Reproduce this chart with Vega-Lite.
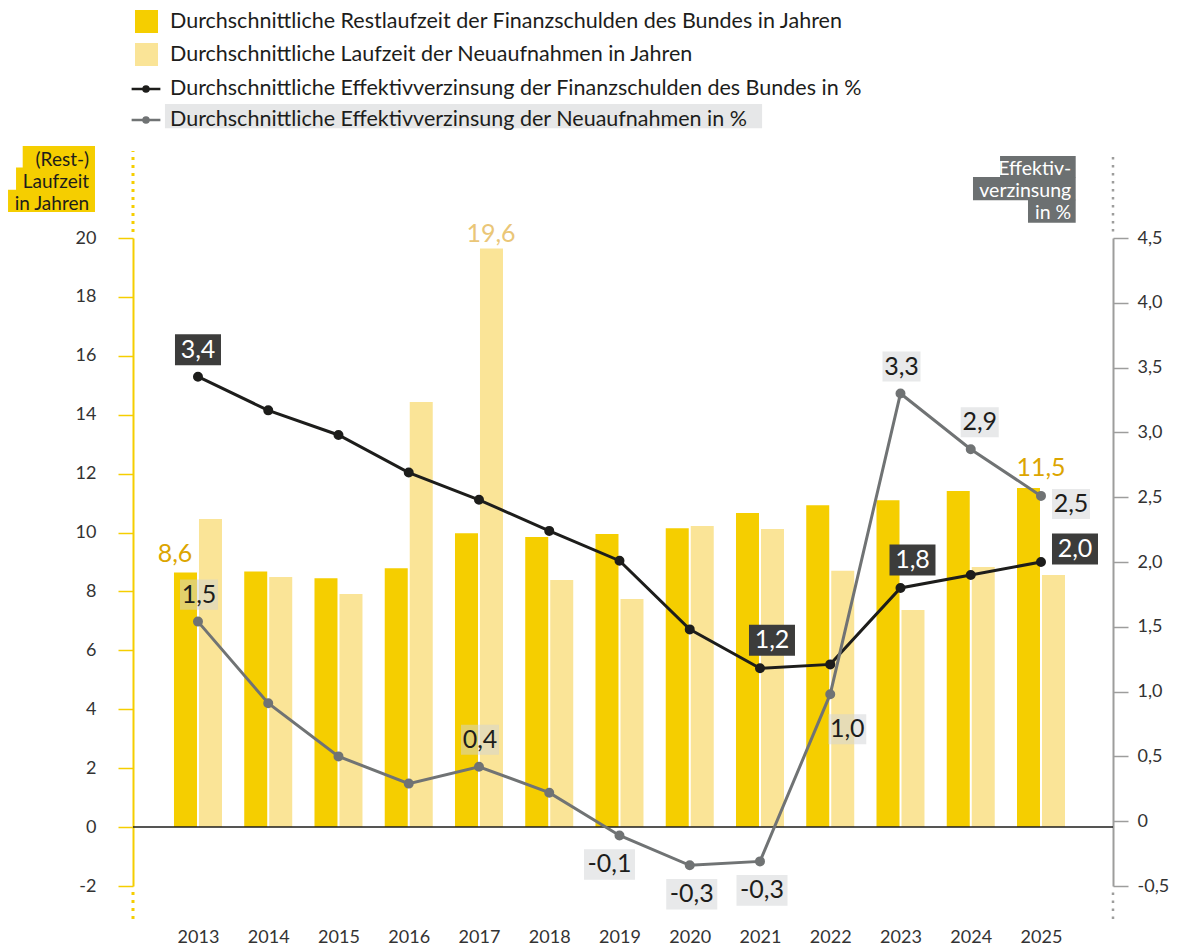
{
  "$schema": "https://vega.github.io/schema/vega-lite/v6.json",
  "width": 980,
  "height": 648,
  "autosize": "none",
  "padding": {"left": 133, "top": 238, "right": 68, "bottom": 61},
  "background": "#ffffff",
  "config": {
    "font": "Lato",
    "view": {"stroke": null},
    "locale": {"number": {"decimal": ",", "thousands": ".", "grouping": [3], "currency": ["", " €"], "minus": "-"}},
    "axis": {"grid": false, "labelFont": "Lato", "labelColor": "#333333", "titleFont": "Lato"}
  },
  "datasets": {
    "d": [
      {"year": 2013, "restlaufzeit": 8.64, "laufzeit_neu": 10.46, "zins_bestand": 3.43, "zins_neu": 1.54},
      {"year": 2014, "restlaufzeit": 8.68, "laufzeit_neu": 8.49, "zins_bestand": 3.17, "zins_neu": 0.91},
      {"year": 2015, "restlaufzeit": 8.45, "laufzeit_neu": 7.91, "zins_bestand": 2.98, "zins_neu": 0.5},
      {"year": 2016, "restlaufzeit": 8.79, "laufzeit_neu": 14.43, "zins_bestand": 2.69, "zins_neu": 0.29},
      {"year": 2017, "restlaufzeit": 9.98, "laufzeit_neu": 19.64, "zins_bestand": 2.48, "zins_neu": 0.42},
      {"year": 2018, "restlaufzeit": 9.85, "laufzeit_neu": 8.39, "zins_bestand": 2.24, "zins_neu": 0.22},
      {"year": 2019, "restlaufzeit": 9.95, "laufzeit_neu": 7.74, "zins_bestand": 2.01, "zins_neu": -0.11},
      {"year": 2020, "restlaufzeit": 10.15, "laufzeit_neu": 10.22, "zins_bestand": 1.48, "zins_neu": -0.34},
      {"year": 2021, "restlaufzeit": 10.66, "laufzeit_neu": 10.12, "zins_bestand": 1.18, "zins_neu": -0.31},
      {"year": 2022, "restlaufzeit": 10.93, "laufzeit_neu": 8.7, "zins_bestand": 1.21, "zins_neu": 0.98},
      {"year": 2023, "restlaufzeit": 11.1, "laufzeit_neu": 7.37, "zins_bestand": 1.8, "zins_neu": 3.3},
      {"year": 2024, "restlaufzeit": 11.41, "laufzeit_neu": 8.83, "zins_bestand": 1.9, "zins_neu": 2.87},
      {"year": 2025, "restlaufzeit": 11.51, "laufzeit_neu": 8.56, "zins_bestand": 2.0, "zins_neu": 2.51}
    ]
  },
  "data": {"name": "d"},
  "layer": [
    {
      "layer": [
        {
          "data": {"values": [{}]},
          "mark": {"type": "rect", "color": "#E6E7E8"},
          "encoding": {
            "x": {"datum": 2012.53, "type": "quantitative"},
            "x2": {"datum": 2021.03},
            "y": {"datum": 24.55, "type": "quantitative"},
            "y2": {"datum": 23.73}
          }
        },
        {
          "mark": {"type": "bar", "size": 23, "xOffset": -12.5, "orient": "vertical"},
          "encoding": {
            "x": {
              "field": "year", "type": "quantitative", "title": null,
              "scale": {"domain": [2012.075, 2026.025], "nice": false, "zero": false, "padding": 0},
              "axis": {"values": [2013, 2014, 2015, 2016, 2017, 2018, 2019, 2020, 2021, 2022, 2023, 2024, 2025], "format": "d", "domain": false, "ticks": false, "labelFontSize": 18, "labelPadding": 42, "labelColor": "#333333", "title": null}
            },
            "y": {
              "field": "restlaufzeit", "type": "quantitative", "title": null,
              "scale": {"domain": [-2, 20], "nice": false, "zero": false},
              "axis": {"orient": "left", "values": [-2, 0, 2, 4, 6, 8, 10, 12, 14, 16, 18, 20], "format": "d", "domain": true, "domainColor": "#F5CE00", "domainWidth": 2, "tickColor": "#F5CE00", "tickSize": 15, "tickWidth": 1.5, "labelPadding": 22, "labelFontSize": 18, "labelColor": "#333333", "title": null}
            },
            "color": {
              "datum": "Durchschnittliche Restlaufzeit der Finanzschulden des Bundes in Jahren",
              "type": "nominal",
              "scale": {
                "domain": [
                  "Durchschnittliche Restlaufzeit der Finanzschulden des Bundes in Jahren",
                  "Durchschnittliche Laufzeit der Neuaufnahmen in Jahren"
                ],
                "range": ["#F5CE00", "#FAE497"]
              },
              "legend": {
                "orient": "none", "legendX": 2, "legendY": -228, "title": null,
                "symbolType": "square", "symbolSize": 529, "symbolOpacity": 1, "symbolStrokeWidth": 0,
                "labelFontSize": 21.5, "labelFont": "Lato", "labelColor": "#1D1D1B",
                "labelOffset": 12, "rowPadding": 10, "padding": 0, "labelLimit": 1000
              }
            }
          }
        },
        {
          "mark": {"type": "bar", "size": 23, "xOffset": 12.5, "orient": "vertical"},
          "encoding": {
            "x": {"field": "year", "type": "quantitative", "title": null},
            "y": {"field": "laufzeit_neu", "type": "quantitative", "title": null},
            "color": {"datum": "Durchschnittliche Laufzeit der Neuaufnahmen in Jahren", "type": "nominal"}
          }
        },
        {
          "data": {"values": [{}]},
          "mark": {"type": "rule", "color": "#1D1D1B", "strokeWidth": 1.5},
          "encoding": {"y": {"datum": 0, "type": "quantitative"}}
        },
        {
          "transform": [{"filter": "datum.year == 2013"}],
          "mark": {"type": "text", "fontSize": 25, "color": "#DCA500", "baseline": "middle", "xOffset": -23, "yOffset": -19},
          "encoding": {
            "x": {"field": "year", "type": "quantitative"},
            "y": {"field": "restlaufzeit", "type": "quantitative"},
            "text": {"field": "restlaufzeit", "format": ".1f"}
          }
        },
        {
          "transform": [{"filter": "datum.year == 2025"}],
          "mark": {"type": "text", "fontSize": 25, "color": "#DCA500", "baseline": "middle", "xOffset": 0, "yOffset": -20},
          "encoding": {
            "x": {"field": "year", "type": "quantitative"},
            "y": {"field": "restlaufzeit", "type": "quantitative"},
            "text": {"field": "restlaufzeit", "format": ".1f"}
          }
        },
        {
          "transform": [{"filter": "datum.year == 2017"}],
          "mark": {"type": "text", "fontSize": 25, "color": "#EAC677", "baseline": "middle", "xOffset": 12, "yOffset": -15},
          "encoding": {
            "x": {"field": "year", "type": "quantitative"},
            "y": {"field": "laufzeit_neu", "type": "quantitative"},
            "text": {"field": "laufzeit_neu", "format": ".1f"}
          }
        },
        {
          "data": {"values": [{}]},
          "mark": {"type": "rule", "color": "#F5CE00", "strokeWidth": 3, "strokeDash": [3, 5]},
          "encoding": {"x": {"datum": 2012.075, "type": "quantitative"}, "y": {"datum": 20.2, "type": "quantitative"}, "y2": {"datum": 22.95}}
        },
        {
          "data": {"values": [{}]},
          "mark": {"type": "rule", "color": "#F5CE00", "strokeWidth": 3, "strokeDash": [3, 5]},
          "encoding": {"x": {"datum": 2012.075, "type": "quantitative"}, "y": {"datum": -2.2, "type": "quantitative"}, "y2": {"datum": -3.25}}
        },
        {
          "data": {"values": [{}]},
          "mark": {"type": "rect", "color": "#F5CE00"},
          "encoding": {"x": {"datum": 2010.505, "type": "quantitative"}, "x2": {"datum": 2011.534}, "y": {"datum": 23.12, "type": "quantitative"}, "y2": {"datum": 22.38}}
        },
        {
          "data": {"values": [{}]},
          "mark": {"type": "rect", "color": "#F5CE00"},
          "encoding": {"x": {"datum": 2010.41, "type": "quantitative"}, "x2": {"datum": 2011.534}, "y": {"datum": 22.39, "type": "quantitative"}, "y2": {"datum": 21.63}}
        },
        {
          "data": {"values": [{}]},
          "mark": {"type": "rect", "color": "#F5CE00"},
          "encoding": {"x": {"datum": 2010.296, "type": "quantitative"}, "x2": {"datum": 2011.534}, "y": {"datum": 21.64, "type": "quantitative"}, "y2": {"datum": 20.88}}
        },
        {
          "data": {"values": [{}]},
          "mark": {"type": "text", "align": "right", "baseline": "alphabetic", "fontSize": 19, "lineHeight": 22, "color": "#1D1D1B"},
          "encoding": {
            "x": {"datum": 2011.45, "type": "quantitative"},
            "y": {"datum": 22.44, "type": "quantitative"},
            "text": {"value": ["(Rest-)", "Laufzeit", "in Jahren"]}
          }
        }
      ]
    },
    {
      "layer": [
        {
          "mark": {"type": "line", "strokeWidth": 3, "point": {"filled": true, "size": 64, "opacity": 1, "color": "#1D1D1B"}},
          "encoding": {
            "x": {"field": "year", "type": "quantitative", "title": null},
            "y": {
              "field": "zins_bestand", "type": "quantitative", "title": null,
              "scale": {"domain": [-0.5, 4.5], "nice": false, "zero": false},
              "axis": {"orient": "right", "values": [-0.5, 0, 0.5, 1, 1.5, 2, 2.5, 3, 3.5, 4, 4.5], "format": ".1f", "labelExpr": "datum.value == 0 ? '0' : datum.label", "domain": true, "domainColor": "#9D9D9C", "domainWidth": 2, "tickColor": "#9D9D9C", "tickSize": 15, "tickWidth": 1.5, "labelPadding": 9, "labelFontSize": 18, "labelColor": "#333333", "title": null}
            },
            "stroke": {
              "datum": "Durchschnittliche Effektivverzinsung der Finanzschulden des Bundes in %",
              "type": "nominal",
              "scale": {
                "domain": [
                  "Durchschnittliche Effektivverzinsung der Finanzschulden des Bundes in %",
                  "Durchschnittliche Effektivverzinsung der Neuaufnahmen in %"
                ],
                "range": ["#1D1D1B", "#707374"]
              },
              "legend": {
                "orient": "none", "legendX": 0, "legendY": -162, "title": null,
                "symbolType": "M-1.25,0H1.25M-0.22,0A0.22,0.22,0,1,1,0.22,0A0.22,0.22,0,1,1,-0.22,0Z",
                "symbolSize": 529, "symbolStrokeWidth": 2.5, "symbolOpacity": 1,
                "labelFontSize": 21.5, "labelFont": "Lato", "labelColor": "#1D1D1B",
                "labelOffset": 11, "rowPadding": 7, "padding": 0, "labelLimit": 1000
              }
            }
          }
        },
        {
          "mark": {"type": "line", "strokeWidth": 3, "point": {"filled": true, "size": 64, "opacity": 1, "color": "#707374"}},
          "encoding": {
            "x": {"field": "year", "type": "quantitative"},
            "y": {"field": "zins_neu", "type": "quantitative"},
            "stroke": {"datum": "Durchschnittliche Effektivverzinsung der Neuaufnahmen in %", "type": "nominal"}
          }
        },
        {
          "transform": [{"filter": "datum.year == 2013 || datum.year == 2017 || datum.year == 2023"}],
          "encoding": {"x": {"field": "year", "type": "quantitative"}, "y": {"field": "zins_neu", "type": "quantitative"}},
          "layer": [
            {"mark": {"type": "point", "shape": "M-1,-0.79H1V0.79H-1Z", "size": 1444, "filled": true, "color": "#D2D4D5", "opacity": 0.5, "strokeWidth": 0, "xOffset": 1, "yOffset": -27}},
            {"mark": {"type": "text", "fontSize": 25, "color": "#1D1D1B", "baseline": "middle", "xOffset": 1, "yOffset": -27}, "encoding": {"text": {"field": "zins_neu", "format": ".1f"}}}
          ]
        },
        {
          "transform": [{"filter": "datum.year == 2024"}],
          "encoding": {"x": {"field": "year", "type": "quantitative"}, "y": {"field": "zins_neu", "type": "quantitative"}},
          "layer": [
            {"mark": {"type": "point", "shape": "M-1,-0.79H1V0.79H-1Z", "size": 1444, "filled": true, "color": "#D2D4D5", "opacity": 0.5, "strokeWidth": 0, "xOffset": 9, "yOffset": -27}},
            {"mark": {"type": "text", "fontSize": 25, "color": "#1D1D1B", "baseline": "middle", "xOffset": 9, "yOffset": -27}, "encoding": {"text": {"field": "zins_neu", "format": ".1f"}}}
          ]
        },
        {
          "transform": [{"filter": "datum.year == 2019"}],
          "encoding": {"x": {"field": "year", "type": "quantitative"}, "y": {"field": "zins_neu", "type": "quantitative"}},
          "layer": [
            {"mark": {"type": "point", "shape": "M-1,-0.6H1V0.6H-1Z", "size": 2601, "filled": true, "color": "#D2D4D5", "opacity": 0.5, "strokeWidth": 0, "xOffset": -10, "yOffset": 29}},
            {"mark": {"type": "text", "fontSize": 25, "color": "#1D1D1B", "baseline": "middle", "xOffset": -10, "yOffset": 29}, "encoding": {"text": {"field": "zins_neu", "format": ".1f"}}}
          ]
        },
        {
          "transform": [{"filter": "datum.year == 2020 || datum.year == 2021"}],
          "encoding": {"x": {"field": "year", "type": "quantitative"}, "y": {"field": "zins_neu", "type": "quantitative"}},
          "layer": [
            {"mark": {"type": "point", "shape": "M-1,-0.6H1V0.6H-1Z", "size": 2601, "filled": true, "color": "#D2D4D5", "opacity": 0.5, "strokeWidth": 0, "xOffset": 2, "yOffset": 29}},
            {"mark": {"type": "text", "fontSize": 25, "color": "#1D1D1B", "baseline": "middle", "xOffset": 2, "yOffset": 29}, "encoding": {"text": {"field": "zins_neu", "format": ".1f"}}}
          ]
        },
        {
          "transform": [{"filter": "datum.year == 2022"}],
          "encoding": {"x": {"field": "year", "type": "quantitative"}, "y": {"field": "zins_neu", "type": "quantitative"}},
          "layer": [
            {"mark": {"type": "point", "shape": "M-1,-0.79H1V0.79H-1Z", "size": 1444, "filled": true, "color": "#D2D4D5", "opacity": 0.5, "strokeWidth": 0, "xOffset": 17, "yOffset": 35}},
            {"mark": {"type": "text", "fontSize": 25, "color": "#1D1D1B", "baseline": "middle", "xOffset": 17, "yOffset": 35}, "encoding": {"text": {"field": "zins_neu", "format": ".1f"}}}
          ]
        },
        {
          "transform": [{"filter": "datum.year == 2025"}],
          "encoding": {"x": {"field": "year", "type": "quantitative"}, "y": {"field": "zins_neu", "type": "quantitative"}},
          "layer": [
            {"mark": {"type": "point", "shape": "M-1,-0.79H1V0.79H-1Z", "size": 1444, "filled": true, "color": "#D2D4D5", "opacity": 0.5, "strokeWidth": 0, "xOffset": 30, "yOffset": 8}},
            {"mark": {"type": "text", "fontSize": 25, "color": "#1D1D1B", "baseline": "middle", "xOffset": 30, "yOffset": 8}, "encoding": {"text": {"field": "zins_neu", "format": ".1f"}}}
          ]
        },
        {
          "transform": [{"filter": "datum.year == 2013"}],
          "encoding": {"x": {"field": "year", "type": "quantitative"}, "y": {"field": "zins_bestand", "type": "quantitative"}},
          "layer": [
            {"mark": {"type": "point", "shape": "M-1,-0.674H1V0.674H-1Z", "size": 2116, "filled": true, "color": "#3C3C3B", "opacity": 1, "strokeWidth": 0, "xOffset": 0, "yOffset": -27}},
            {"mark": {"type": "text", "fontSize": 25, "color": "#ffffff", "baseline": "middle", "xOffset": 0, "yOffset": -27}, "encoding": {"text": {"field": "zins_bestand", "format": ".1f"}}}
          ]
        },
        {
          "transform": [{"filter": "datum.year == 2021 || datum.year == 2023"}],
          "encoding": {"x": {"field": "year", "type": "quantitative"}, "y": {"field": "zins_bestand", "type": "quantitative"}},
          "layer": [
            {"mark": {"type": "point", "shape": "M-1,-0.674H1V0.674H-1Z", "size": 2116, "filled": true, "color": "#3C3C3B", "opacity": 1, "strokeWidth": 0, "xOffset": 12, "yOffset": -28}},
            {"mark": {"type": "text", "fontSize": 25, "color": "#ffffff", "baseline": "middle", "xOffset": 12, "yOffset": -28}, "encoding": {"text": {"field": "zins_bestand", "format": ".1f"}}}
          ]
        },
        {
          "transform": [{"filter": "datum.year == 2025"}],
          "encoding": {"x": {"field": "year", "type": "quantitative"}, "y": {"field": "zins_bestand", "type": "quantitative"}},
          "layer": [
            {"mark": {"type": "point", "shape": "M-1,-0.674H1V0.674H-1Z", "size": 2116, "filled": true, "color": "#3C3C3B", "opacity": 1, "strokeWidth": 0, "xOffset": 34, "yOffset": -13}},
            {"mark": {"type": "text", "fontSize": 25, "color": "#ffffff", "baseline": "middle", "xOffset": 34, "yOffset": -13}, "encoding": {"text": {"field": "zins_bestand", "format": ".1f"}}}
          ]
        },
        {
          "data": {"values": [{}]},
          "mark": {"type": "rule", "color": "#9D9D9C", "strokeWidth": 2.5, "strokeDash": [2.5, 5.5]},
          "encoding": {"x": {"datum": 2026.025, "type": "quantitative"}, "y": {"datum": 4.55, "type": "quantitative"}, "y2": {"datum": 5.16}}
        },
        {
          "data": {"values": [{}]},
          "mark": {"type": "rule", "color": "#9D9D9C", "strokeWidth": 2.5, "strokeDash": [2.5, 5.5]},
          "encoding": {"x": {"datum": 2026.025, "type": "quantitative"}, "y": {"datum": -0.55, "type": "quantitative"}, "y2": {"datum": -0.78}}
        },
        {
          "data": {"values": [{}]},
          "mark": {"type": "rect", "color": "#6C7071"},
          "encoding": {"x": {"datum": 2024.417, "type": "quantitative"}, "x2": {"datum": 2025.494}, "y": {"datum": 5.133, "type": "quantitative"}, "y2": {"datum": 4.966}}
        },
        {
          "data": {"values": [{}]},
          "mark": {"type": "rect", "color": "#6C7071"},
          "encoding": {"x": {"datum": 2024.032, "type": "quantitative"}, "x2": {"datum": 2025.494}, "y": {"datum": 4.97, "type": "quantitative"}, "y2": {"datum": 4.791}}
        },
        {
          "data": {"values": [{}]},
          "mark": {"type": "rect", "color": "#6C7071"},
          "encoding": {"x": {"datum": 2024.815, "type": "quantitative"}, "x2": {"datum": 2025.494}, "y": {"datum": 4.795, "type": "quantitative"}, "y2": {"datum": 4.618}}
        },
        {
          "data": {"values": [{}]},
          "mark": {"type": "text", "align": "right", "baseline": "alphabetic", "fontSize": 19.5, "lineHeight": 22, "color": "#ffffff"},
          "encoding": {
            "x": {"datum": 2025.43, "type": "quantitative"},
            "y": {"datum": 4.986, "type": "quantitative"},
            "text": {"value": ["Effektiv-", "verzinsung", "in %"]}
          }
        }
      ]
    }
  ],
  "resolve": {"scale": {"y": "independent"}}
}
